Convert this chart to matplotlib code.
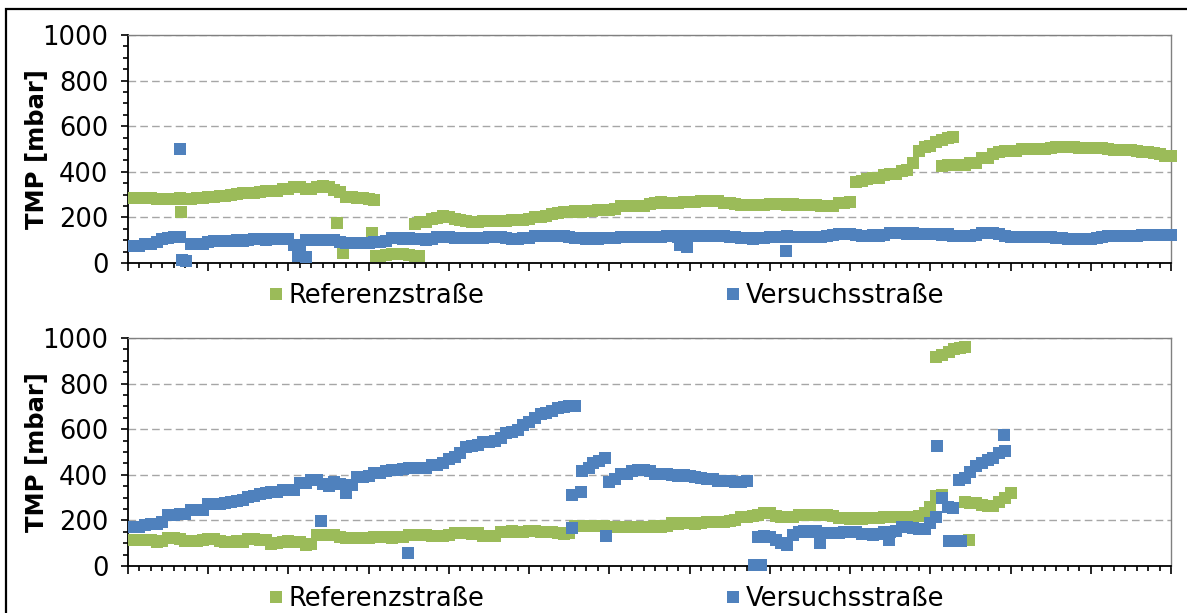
import numpy as np
import matplotlib
matplotlib.use("Agg")
import matplotlib.pyplot as plt
from matplotlib.patches import Rectangle
from matplotlib.ticker import MultipleLocator

nan = np.nan

# one reading every 12 h, first one at day 0.5
STEP = 0.5

GREEN = "#9BBB59"
BLUE = "#4F81BD"

# ---- upper panel ----
top_ref = [
    285, 285, 284, 283, 282, 281, 280, 282, 283, 282,
    282, 283, 285, 290, 291, 292, 293, 300, 302, 306,
    308, 309, 310, 315, 316, 317, 324, 326, 335, 333,
    325, 326, 335, 336, 333, 320, 310, 290, 289, 286,
    285, 282, 275, nan, nan, nan, nan, nan, nan, 172,
    178, 182, 195, 196, 205, 203, 192, 190, 186, 181,
    182, 184, 184, 185, 184, 184, 188, 188, 190, 192,
    201, 202, 205, 215, 218, 225, 225, 226, 225, 226,
    228, 232, 232, 233, 235, 248, 250, 252, 251, 252,
    258, 265, 266, 265, 264, 265, 268, 267, 266, 272,
    272, 274, 270, 265, 264, 260, 254, 253, 254, 256,
    254, 258, 259, 258, 256, 258, 256, 254, 255, 254,
    252, 251, 252, 265, 265, 266, 357, 360, 370, 372,
    375, 388, 390, 392, 405, 408, 440, 493, 510, 515,
    532, 540, 550, 552, 430, 432, 438, 440, 460, 462,
    478, 488, 490, 490, 492, 498, 500, 500, 502, 501,
    504, 508, 509, 508, 507, 506, 504, 505, 506, 504,
    498, 496, 495, 496, 494, 492, 486, 486, 484, 476,
    470, 468,
]
top_ref_extra_t = [4.6, 18.2, 18.8, 21.3, 21.6, 22.0, 22.5, 23.0, 23.5, 24.0, 24.5, 25.0, 25.4, 71.0, 71.5, 72.0]
top_ref_extra_v = [225, 175, 44, 132, 30, 31, 36, 38, 38, 38, 37, 32, 30, 427, 428, 429]

top_ver = [
    75, 76, 83, 84, 90, 106, 108, 112, 115, nan,
    83, 83, 85, 94, 95, 97, 98, 98, 99, 98,
    100, 104, 104, 103, 104, 106, 105, 104, 80, 70,
    101, 102, 101, 102, 101, 100, 90, 89, 88, 89,
    88, 89, 94, 94, 96, 108, 108, 107, 108, 104,
    104, 103, 105, 114, 115, 116, 108, 109, 108, 108,
    110, 110, 115, 116, 114, 108, 107, 106, 108, 110,
    118, 118, 119, 118, 117, 118, 114, 108, 108, 107,
    108, 106, 108, 109, 110, 115, 115, 114, 115, 116,
    115, 114, 115, 118, 119, 116, 117, 118, 119, 118,
    120, 118, 119, 118, 115, 112, 108, 108, 107, 108,
    110, 115, 115, 116, 118, 115, 116, 115, 116, 115,
    116, 118, 125, 126, 127, 126, 124, 120, 119, 121,
    120, 124, 130, 131, 130, 129, 130, 128, 126, 127,
    126, 125, 126, 120, 118, 119, 118, 122, 130, 131,
    130, 126, 120, 115, 113, 112, 113, 112, 114, 113,
    112, 108, 108, 107, 104, 105, 106, 105, 108, 112,
    118, 118, 117, 118, 119, 120, 121, 122, 121, 122,
    121, 121,
]
top_ver_extra_t = [4.5, 4.7, 5.1, 14.8, 15.5, 48.2, 48.8, 57.4]
top_ver_extra_v = [499, 12, 8, 30, 25, 78, 72, 51]

# ---- lower panel ----
bot_ref = [
    114, 115, 113, 114, 107, 108, 121, 122, 120, 110,
    111, 110, 112, 117, 118, 110, 107, 106, 108, 107,
    117, 118, 116, 112, 98, 100, 107, 108, 107, 106,
    92, 95, 136, 138, 135, 134, 126, 124, 123, 125,
    124, 124, 126, 127, 126, 125, 127, 128, 136, 137,
    136, 135, 131, 130, 132, 135, 143, 144, 143, 142,
    143, 131, 130, 133, 151, 150, 152, 151, 150, 152,
    153, 151, 150, 149, 143, 142, 145, 175, 176, 174,
    175, 176, 174, 172, 171, 172, 173, 172, 171, 172,
    173, 174, 172, 175, 187, 186, 187, 188, 186, 188,
    194, 195, 193, 194, 196, 200, 214, 216, 218, 222,
    234, 233, 220, 216, 215, 217, 224, 225, 224, 223,
    225, 222, 221, 212, 209, 208, 209, 208, 209, 210,
    209, 215, 216, 217, 215, 216, 217, 220, 231, 257,
    308, 310, nan, nan, nan, 280, 278, 276, 268, 263,
    262, 280, 300, 320,
]
bot_ref_extra_t = [70.5, 71.0, 71.6, 72.1, 72.6, 73.0, 73.4]
bot_ref_extra_v = [918, 925, 940, 950, 956, 960, 113]

bot_ver = [
    170, 172, 182, 184, 186, 194, 222, 224, 228, 229,
    246, 247, 245, 272, 271, 273, 275, 282, 283, 290,
    304, 305, 315, 322, 323, 324, 333, 333, 335, 363,
    365, 377, 378, 360, 351, 370, 360, 348, 355, 392,
    392, 395, 406, 407, 415, 421, 422, 425, 428, 428,
    429, 430, 443, 444, 450, 470, 479, 495, 523, 525,
    530, 545, 546, 550, 560, 585, 589, 595, 620, 633,
    650, 665, 670, 680, 692, 699, 700, 702, nan, nan,
    nan, nan, nan, 370, 380, 402, 404, 415, 421, 422,
    418, 405, 402, 403, 401, 396, 397, 395, 390, 384,
    382, 383, 375, 371, 372, 368, 368, 372, nan, 129,
    130, 128, 112, 100, 92, 135, 151, 152, 150, 152,
    145, 143, 144, 146, 148, 149, 147, 140, 139, 138,
    139, 148, 150, 152, 170, 171, 168, 161, 163, 187,
    216, 297, 260, 255, 377, 385, 414, 440, 452, 465,
    475, 495, 506, nan,
]
bot_ver_extra_t = [16.8, 19.0, 24.4, 38.7, 38.7, 39.5, 39.6, 40.2, 40.6, 41.1, 41.6, 41.7,
                   54.6, 55.2, 60.4, 66.4, 70.6, 71.6, 72.7, 76.4]
bot_ver_extra_v = [196, 320, 56, 167, 312, 325, 415, 428, 450, 462, 472, 133,
                   6, 6, 100, 114, 525, 111, 108, 573]

W, H = 1187, 613


def series(main, extra_t, extra_v):
    t = STEP * np.arange(1, len(main) + 1)
    return np.concatenate([t, extra_t]), np.concatenate([np.array(main, float), extra_v])


def draw_panel(ax, ref, ver):
    for (x, y), col, name in [(ref, GREEN, "Referenzstraße"), (ver, BLUE, "Versuchsstraße")]:
        ax.plot(x, y, ls="none", marker="s", ms=9.3, mew=0, color=col,
                clip_on=False, label=name, zorder=3)

    ax.set_xlim(0, 91)
    ax.set_ylim(0, 1000)
    ax.xaxis.set_major_locator(MultipleLocator(7))
    ax.xaxis.set_minor_locator(MultipleLocator(1))
    ax.yaxis.set_major_locator(MultipleLocator(200))
    ax.yaxis.set_minor_locator(MultipleLocator(50))

    ax.tick_params(axis="x", which="both", labelbottom=False, direction="out", width=1.2)
    ax.tick_params(axis="x", which="major", length=6)
    ax.tick_params(axis="x", which="minor", length=3.6)
    ax.tick_params(axis="y", which="both", direction="out", width=1.2, labelsize=18.5, pad=9)
    ax.tick_params(axis="y", which="major", length=5)
    ax.tick_params(axis="y", which="minor", length=3.6)

    ax.grid(axis="y", which="major", color="#A6A6A6", lw=1, ls=(0, (5.5, 3)), zorder=0)
    for side in ["left", "bottom"]:
        ax.spines[side].set_color("black")
        ax.spines[side].set_linewidth(1.3)
    for side in ["top", "right"]:
        ax.spines[side].set_color("#808080")
        ax.spines[side].set_linewidth(1.0)

    ax.set_ylabel("TMP [mbar]", fontsize=17.5, fontweight="bold")
    ax.yaxis.set_label_coords(-0.076, 0.5)

    ax.legend(loc="center", bbox_to_anchor=(0.4583, -0.143), ncol=2, frameon=False,
              fontsize=18.5, handlelength=0.6, handletextpad=0.2, columnspacing=9.35,
              markerscale=1.0, borderpad=0)


def main():
    fig = plt.figure(figsize=(W / 100, H / 100), dpi=100)
    left, width, height = 128 / W, 1043 / W, 228 / H
    ax_top = fig.add_axes([left, 1 - 263 / H, width, height])
    ax_bot = fig.add_axes([left, 1 - 566 / H, width, height])

    draw_panel(ax_top, series(top_ref, top_ref_extra_t, top_ref_extra_v),
               series(top_ver, top_ver_extra_t, top_ver_extra_v))
    draw_panel(ax_bot, series(bot_ref, bot_ref_extra_t, bot_ref_extra_v),
               series(bot_ver, bot_ver_extra_t, bot_ver_extra_v))

    # outer frame of the pasted chart (right and bottom edges fall outside)
    fig.add_artist(Rectangle((6 / W, -0.1), 1.2, 1 - 9 / H + 0.1, transform=fig.transFigure,
                             fill=False, ec="black", lw=1.6))

    fig.savefig("out.png", dpi=100)


main()
